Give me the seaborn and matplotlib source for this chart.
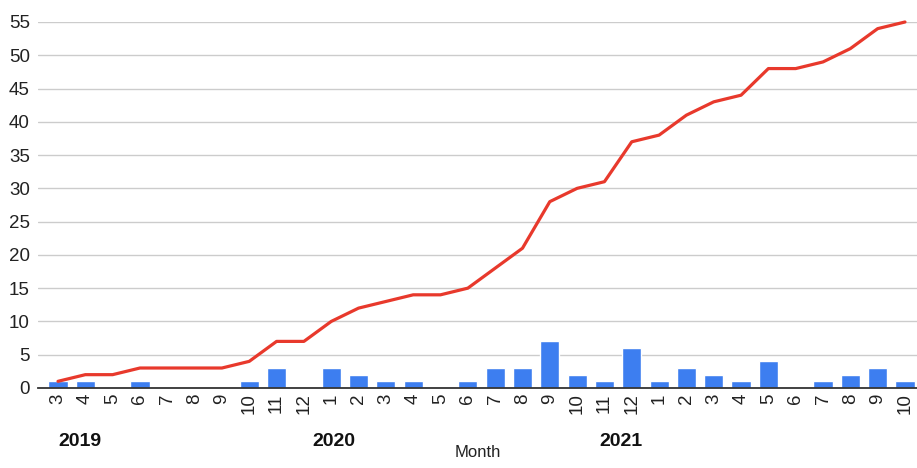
import matplotlib
matplotlib.use("Agg")
import matplotlib.pyplot as plt
import seaborn as sns
import pandas as pd
import numpy as np

# Monthly counts, March 2019 through October 2021
years = [2019] * 10 + [2020] * 12 + [2021] * 10
months = [3, 4, 5, 6, 7, 8, 9, 10, 11, 12,
          1, 2, 3, 4, 5, 6, 7, 8, 9, 10, 11, 12,
          1, 2, 3, 4, 5, 6, 7, 8, 9, 10]
monthly = [1, 1, 0, 1, 0, 0, 0, 1, 3, 0,
           3, 2, 1, 1, 0, 1, 3, 3, 7, 2, 1, 6,
           1, 3, 2, 1, 4, 0, 1, 2, 3, 1]
cumulative = [1, 2, 2, 3, 3, 3, 3, 4, 7, 7,
              10, 12, 13, 14, 14, 15, 18, 21, 28, 30, 31, 37,
              38, 41, 43, 44, 48, 48, 49, 51, 54, 55]
year_labels = ["2019", "2020", "2021"]

df = pd.DataFrame({
    "pos": np.arange(len(months)),
    "year": years,
    "month": months,
    "monthly": monthly,
    "cumulative": cumulative,
})

sns.set_style("white")
plt.rcParams["font.family"] = ["Liberation Sans", "DejaVu Sans"]

fig = plt.figure(figsize=(9.17, 4.68), dpi=100)
ax = fig.add_axes([0.0415, 0.171, 0.9585, 0.782])

sns.barplot(data=df, x="pos", y="monthly", color="#3d7ef0", saturation=1,
            width=0.7, ax=ax, zorder=2)
sns.lineplot(data=df, x="pos", y="cumulative", color="#e8392c", linewidth=2.3,
             ax=ax, zorder=3, clip_on=False)

ax.set_xlim(-0.73, 31.44)
ax.set_ylim(0, 55)
ax.set_yticks(np.arange(0, 56, 5))
ax.tick_params(axis="y", labelsize=13.5, length=0, pad=6, labelcolor="#222222")
ax.set_xticks(df["pos"])
ax.set_xticklabels([str(m) for m in months], rotation=90, fontsize=13.5,
                   color="#222222")
ax.tick_params(axis="x", length=0, pad=4)
ax.grid(axis="y", color="#cccccc", linewidth=1)
ax.set_axisbelow(True)
for side in ["top", "right", "left"]:
    ax.spines[side].set_visible(False)
ax.spines["bottom"].set_color("#333333")
ax.spines["bottom"].set_linewidth(1.3)
ax.set_ylabel("")
ax.set_xlabel("Month", fontsize=12, labelpad=22, color="#222222")

# Year labels beneath the month ticks (x in category units)
year_label_x = [0.8, 10.1, 20.6]
trans = ax.get_xaxis_transform()
for label, xpos in zip(year_labels, year_label_x):
    ax.text(xpos, -0.145, label, transform=trans, ha="center",
            va="center", fontsize=14, fontweight="bold", color="#111111")

fig.savefig("out.png", dpi=100)
